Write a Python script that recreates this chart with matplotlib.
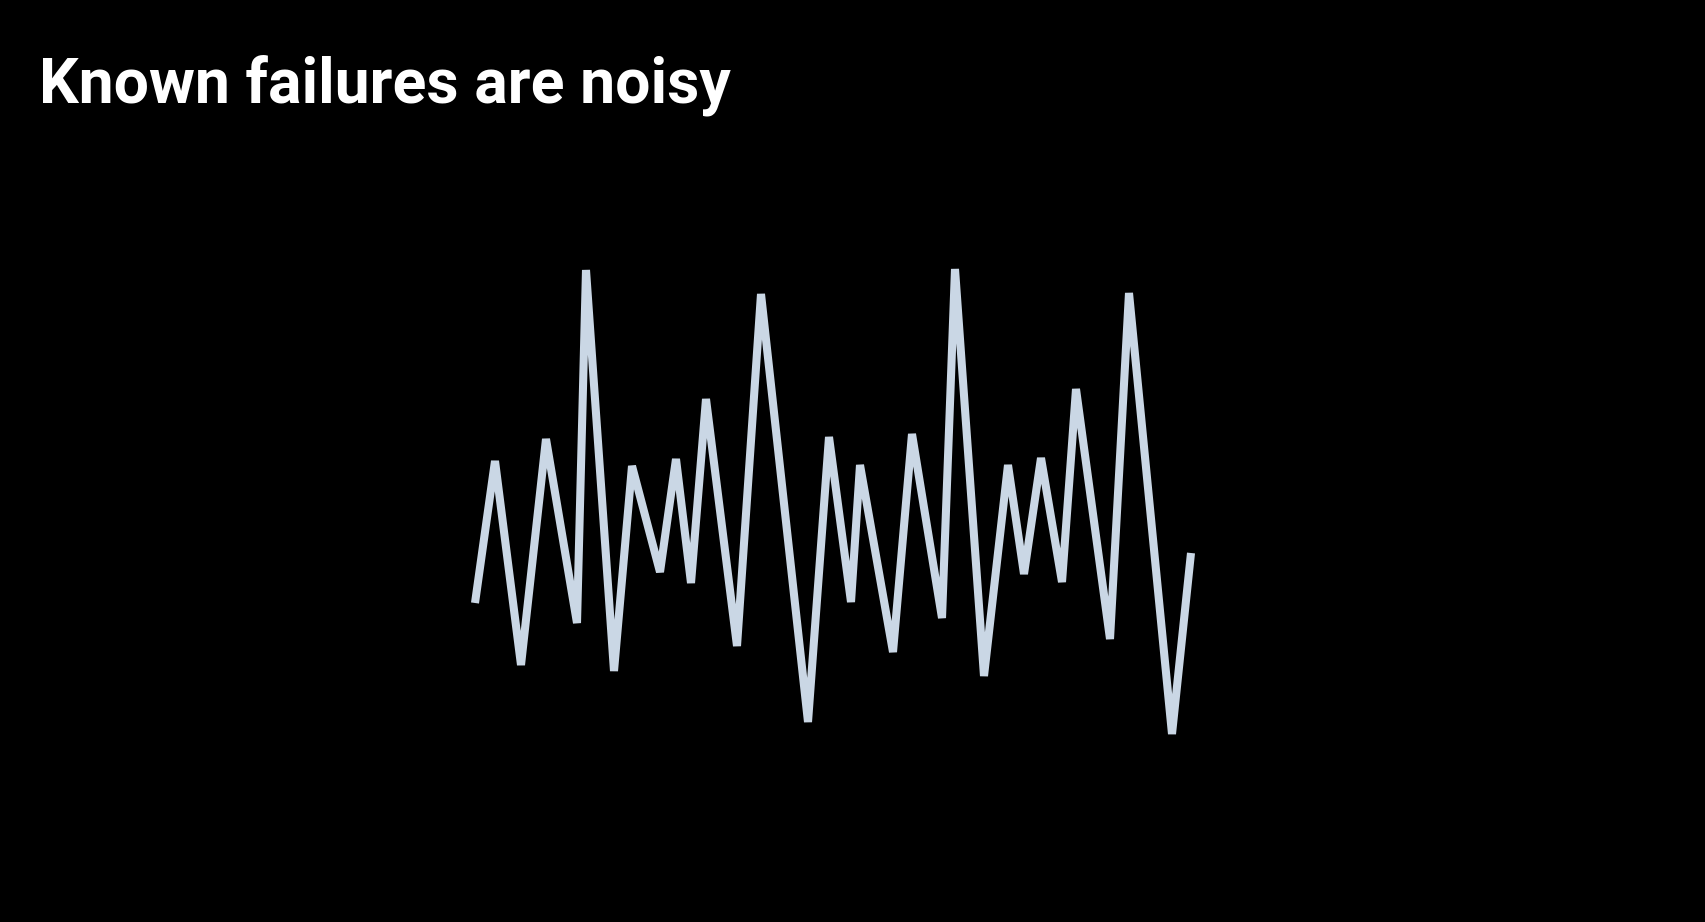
import numpy as np
import matplotlib
matplotlib.use("Agg")
import matplotlib.pyplot as plt

# noisy signal vertices (time, value)
t = [475, 495, 521, 546, 577, 586, 614, 632, 660, 676, 691, 706,
     737, 761, 808, 829, 851, 860, 893, 912, 942, 955, 984, 1008,
     1024, 1041, 1062, 1076, 1110, 1129, 1172, 1191]
signal = [319, 461, 257, 483, 299, 652, 251, 456, 350, 463, 339, 523,
          276, 628, 200, 485, 320, 457, 270, 488, 304, 653, 246, 457,
          348, 464, 340, 533, 283, 629, 188, 369]

W, H = 1706, 922
fig = plt.figure(figsize=(W / 100, H / 100), dpi=100, facecolor="black")
ax = fig.add_axes([0, 0, 1, 1])
ax.set_facecolor("black")
ax.plot(t, signal, color="#CAD7E5", linewidth=5.8,
        solid_joinstyle="bevel", solid_capstyle="butt")
ax.set_xlim(0, W)
ax.set_ylim(0, H)
ax.axis("off")

fig.text(39 / W, 1 - 102 / H, "Known failures are noisy", color="white",
         fontsize=45, fontweight="bold", family="Roboto", va="baseline", ha="left")

fig.savefig("out.png", dpi=100, facecolor="black")
